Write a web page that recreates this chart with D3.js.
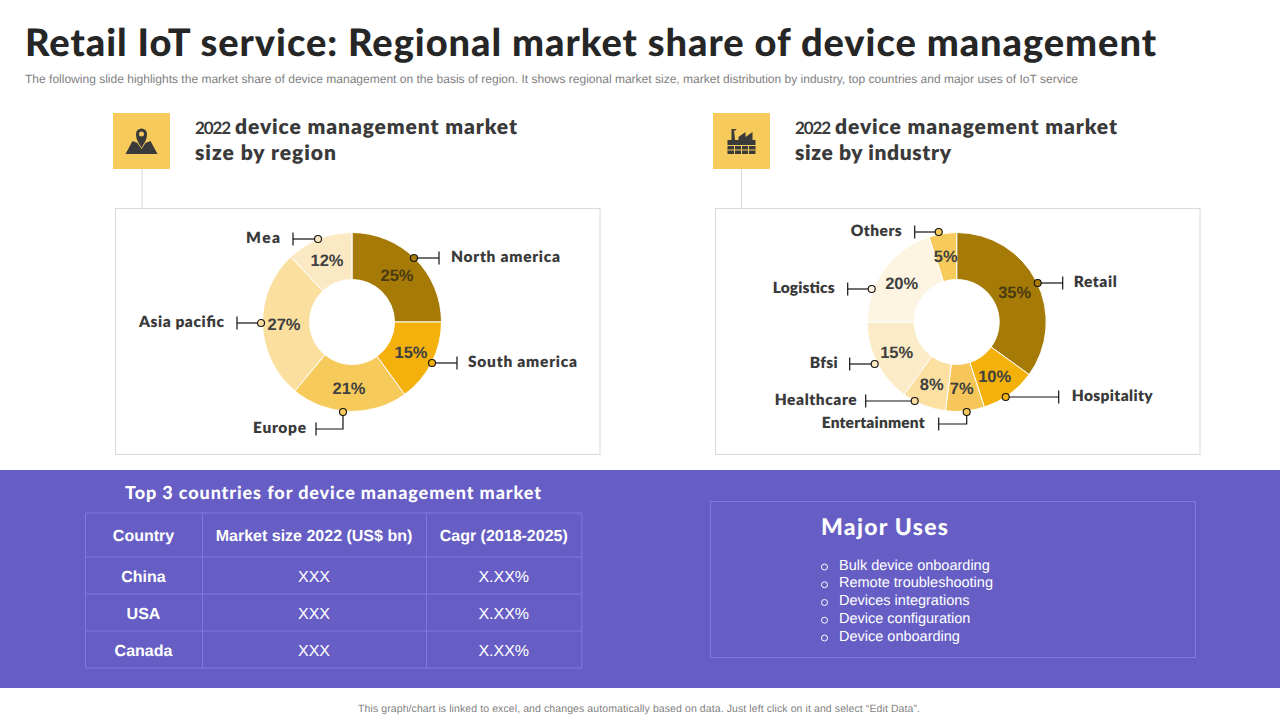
<!DOCTYPE html>
<html><head><meta charset="utf-8">
<script src="https://cdn.jsdelivr.net/npm/d3@7/dist/d3.min.js"></script>
<style>html,body{margin:0;padding:0;background:#fff}svg{display:block}text{text-rendering:geometricPrecision}</style>
</head><body><svg id="c" width="1280" height="720"></svg>
<script>
// ---- data ----
const regionNames = ["North america","South america","Europe","Asia pacific","Mea"];
const regionShare = [25,15,21,27,12];
const regionColors = ["#A57A06","#F4B10B","#F7CB5B","#FADF9E","#FBE9C4"];
const industryNames = ["Retail","Hospitality","Entertainment","Healthcare","Bfsi","Logistics","Others"];
const industryShare = [35,10,7,8,15,20,5];
const industryColors = ["#A57A06","#F4B10B","#F6C65B","#FBE0A2","#FBEBC6","#FDF5E1","#F7CB5B"];
const tableHead = ["Country","Market size 2022 (US$ bn)","Cagr (2018-2025)"];
const tableCountries = ["China","USA","Canada"];
const tableMarket = ["XXX","XXX","XXX"];
const tableCagr = ["X.XX%","X.XX%","X.XX%"];
const majorUses = ["Bulk device onboarding","Remote troubleshooting","Devices integrations","Device configuration","Device onboarding"];

// ---- annotation layout (offsets from each donut's centre) ----
const regionLayout = [
 {pct:[45,-46],dot:[62,-64],end:[87,-64],lab:[99,-65,"start",109]},
 {pct:[59,31],dot:[80,41],end:[105,41],lab:[116,40,"start",109]},
 {pct:[-3,67],dot:[-9,90],elbow:107,end:[-36,107],lab:[-46,106,"end",53]},
 {pct:[-68,3],dot:[-91,1],end:[-115,1],lab:[-128,0,"end",85]},
 {pct:[-25,-61],dot:[-34,-83],end:[-59,-83],lab:[-72,-84,"end",34]}];
const industryLayout = [
 {pct:[58,-29],dot:[81,-39],end:[106,-39],lab:[117,-40,"start",43]},
 {pct:[38,55],dot:[49,75],end:[102,75],lab:[115,74,"start",81]},
 {pct:[5,67],dot:[10,90],elbow:102,end:[-18,102],lab:[-32,101,"end",103]},
 {pct:[-25,63],dot:[-42,79],end:[-91,79],lab:[-100,78,"end",82]},
 {pct:[-60,31],dot:[-82,42],end:[-107,42],lab:[-119,41,"end",28]},
 {pct:[-55,-38],dot:[-85,-33],end:[-109,-33],lab:[-122,-34,"end",62]},
 {pct:[-11,-65],dot:[-18,-90],end:[-42,-90],lab:[-55,-91,"end",51]}];

const svg = d3.select("#c");
const HEAD = "Lato, 'Open Sans', sans-serif", BODY = "'Liberation Sans', Arial, sans-serif";

function fit(x,y,str,opt){
  const t = svg.append("text").attr("x",x).attr("y",y).text(str)
    .attr("font-family",opt.family||HEAD).attr("font-size",opt.size)
    .attr("font-weight",opt.weight||400).attr("fill",opt.fill||"#333")
    .attr("text-anchor",opt.anchor||"start")
    .attr("dominant-baseline",opt.base||"auto");
  if(opt.len) t.attr("textLength",opt.len).attr("lengthAdjust","spacing");
  return t;
}

// title block
fit(25,56,"Retail IoT service: Regional market share of device management",{size:38,weight:900,fill:"#262626",len:1131});
fit(25,83,"The following slide highlights the market share of device management on the basis of region. It shows regional market size, market distribution by industry, top countries and major uses of IoT service",{family:BODY,size:12,fill:"#7f7f7f",len:1053});

// panels
function panel(px,iconX,lineX,l2,l2len,icon){
  svg.append("rect").attr("x",px+.5).attr("y",208.5).attr("width",484.5).attr("height",246)
    .attr("fill","#fff").attr("stroke","#d9d9d9");
  svg.append("line").attr("x1",lineX).attr("x2",lineX).attr("y1",169).attr("y2",208.5).attr("stroke","#d9d9d9");
  svg.append("rect").attr("x",iconX).attr("y",113).attr("width",57).attr("height",56).attr("fill","#F7CB5B");
  const hx = iconX+82;
  fit(hx,134,"2022",{size:17,weight:700,fill:"#3a3a3a",len:36});
  fit(hx+40,134,"device management market",{size:21,weight:800,fill:"#3a3a3a",len:282});
  fit(hx,160,l2,{size:21,weight:800,fill:"#3a3a3a",len:l2len});
  icon(svg.append("g").attr("transform",`translate(${iconX+28.5},141)`).attr("fill","#3a3a3a"));
}
panel(115,113,142,"size by region",141,g=>{
  g.append("path").attr("d","M-9,0L-16,13H16L9,0L4,2L0,8L-4,2Z");
  g.append("path").attr("fill-rule","evenodd").attr("d","M0,7C-2.5,2 -5.5,-1 -5.5,-7A5.5,5.5 0 1 1 5.5,-7C5.5,-1 2.5,2 0,7ZM0,-9.5A2.5,2.5 0 1 0 0,-4.5A2.5,2.5 0 1 0 0,-9.5Z");
});
panel(715,713,741.5,"size by industry",156,g=>{
  g.append("path").attr("d","M-10,-12H-5L-6,-10.5H-7.5L-6.5,-1H-3V-4L4,-9V-4L11,-9V-1H14V4H-14V-1H-10Z");
  g.append("rect").attr("x",-14).attr("y",5).attr("width",28).attr("height",8);
  g.append("path").attr("d","M-14,9H14M-7,5V13M0,5V13M7,5V13").attr("stroke","#F7CB5B").attr("stroke-width",1).attr("fill","none");
});

// donuts
const pie = d3.pie().sort(null).value(d=>d);
function donut(cx,cy,names,vals,colors,layout){
  const g = svg.append("g").attr("transform",`translate(${cx},${cy})`);
  const arc = d3.arc().innerRadius(42.5).outerRadius(89.5);
  g.selectAll("path").data(pie(vals)).join("path").attr("d",arc)
    .attr("fill",(d,i)=>colors[i]).attr("stroke","#fff").attr("stroke-width",1);
  vals.forEach((v,i)=>{
    const L = layout[i];
    const pts = L.elbow!==undefined ? [L.dot,[L.dot[0],L.elbow],L.end] : [L.dot,L.end];
    g.append("path").attr("d",d3.line()(pts)).attr("fill","none").attr("stroke","#111").attr("stroke-width",1.2);
    g.append("line").attr("x1",L.end[0]).attr("x2",L.end[0]).attr("y1",L.end[1]-6.5).attr("y2",L.end[1]+6.5)
      .attr("stroke","#111").attr("stroke-width",1.2);
    g.append("circle").attr("cx",L.dot[0]).attr("cy",L.dot[1]).attr("r",3.5)
      .attr("fill",colors[i]).attr("stroke","#111").attr("stroke-width",1.1);
    g.append("text").attr("x",L.pct[0]).attr("y",L.pct[1]).attr("text-anchor","middle").attr("dominant-baseline","central")
      .attr("font-family",BODY).attr("font-weight",700).attr("font-size",16.5)
      .attr("fill",i===0?"#4a3a12":"#404040").text(v+"%");
    g.append("text").attr("x",L.lab[0]).attr("y",L.lab[1]).attr("text-anchor",L.lab[2]).attr("dominant-baseline","central")
      .attr("font-family",HEAD).attr("font-weight",800).attr("font-size",15.5).attr("fill","#3a3a3a")
      .attr("textLength",L.lab[3]).attr("lengthAdjust","spacing").text(names[i]);
  });
}
donut(352,322,regionNames,regionShare,regionColors,regionLayout);
donut(956.7,322,industryNames,industryShare,industryColors,industryLayout);

// purple band
svg.append("rect").attr("x",0).attr("y",470).attr("width",1280).attr("height",218).attr("fill","#665EC4");
fit(125,499,"Top 3 countries for device management market",{size:18,weight:900,fill:"#fff",len:416});

// table
const colX = d3.scaleOrdinal().domain([0,1,2,3]).range([85.5,202.5,426.5,582]);
const rowY = d3.scaleOrdinal().domain([0,1,2,3,4]).range([513,557,594,631,668]);
const LINE = "#8079DE";
[0,1,2,3].forEach(c=>svg.append("line").attr("x1",colX(c)).attr("x2",colX(c)).attr("y1",rowY(0)).attr("y2",rowY(4)).attr("stroke",LINE));
[0,1,2,3,4].forEach(r=>svg.append("line").attr("x1",colX(0)).attr("x2",colX(3)).attr("y1",rowY(r)).attr("y2",rowY(r)).attr("stroke",LINE));
const cell=(c,r,s,w)=>svg.append("text").attr("x",(colX(c)+colX(c+1))/2-.5).attr("y",(rowY(r)+rowY(r+1))/2+1.5)
  .attr("text-anchor","middle").attr("dominant-baseline","central").attr("font-family",BODY)
  .attr("font-size",16).attr("font-weight",w).attr("fill","#fff").text(s);
tableHead.forEach((h,i)=>cell(i,0,h,700));
tableCountries.forEach((s,i)=>{cell(0,i+1,s,700);cell(1,i+1,tableMarket[i],400);cell(2,i+1,tableCagr[i],400);});

// major uses
svg.append("rect").attr("x",710.5).attr("y",501.5).attr("width",485).attr("height",156).attr("fill","none").attr("stroke",LINE);
fit(821,535,"Major Uses",{size:23,weight:900,fill:"#fff",len:127});
const useY = d3.scalePoint().domain(majorUses).range([565.5,636.5]);
majorUses.forEach(u=>{
  svg.append("circle").attr("cx",824.5).attr("cy",useY(u)+1.5).attr("r",3).attr("fill","none").attr("stroke","#fff").attr("stroke-width",1);
  svg.append("text").attr("x",839).attr("y",useY(u)).attr("dominant-baseline","central").attr("font-family",BODY)
    .attr("font-size",14.5).attr("fill","#fff").text(u);
});

// footer
fit(358,712,"This graph/chart is linked to excel, and changes automatically based on data. Just left click on it and select “Edit Data”.",{family:BODY,size:10.5,fill:"#7f7f7f",len:562});
</script></body></html>
